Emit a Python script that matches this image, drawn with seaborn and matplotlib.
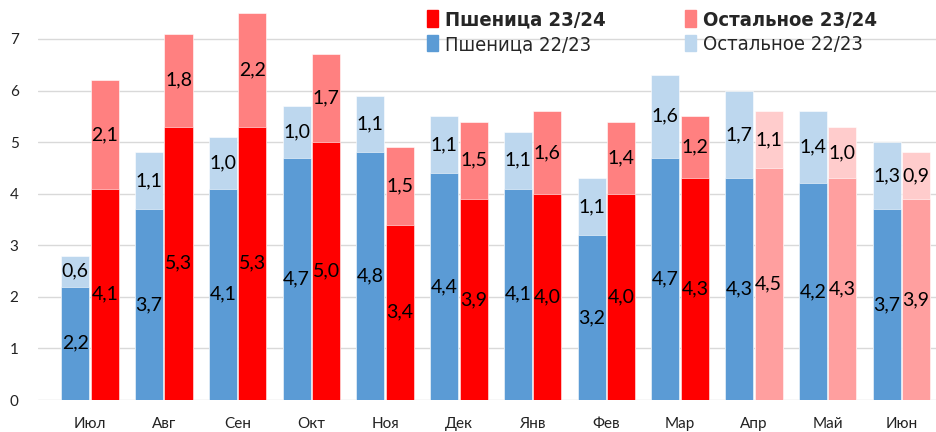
import matplotlib.pyplot as plt
import seaborn as sns
import pandas as pd
from matplotlib.patches import Patch
from matplotlib.font_manager import FontProperties


sns.set_theme(style="white")
plt.rcParams['font.family'] = ['Lato', 'DejaVu Sans']

months = ['Июл', 'Авг', 'Сен', 'Окт', 'Ноя', 'Дек', 'Янв', 'Фев', 'Мар', 'Апр', 'Май', 'Июн']
wheat_22 = [2.2, 3.7, 4.1, 4.7, 4.8, 4.4, 4.1, 3.2, 4.7, 4.3, 4.2, 3.7]
other_22 = [0.6, 1.1, 1.0, 1.0, 1.1, 1.1, 1.1, 1.1, 1.6, 1.7, 1.4, 1.3]
wheat_23 = [4.1, 5.3, 5.3, 5.0, 3.4, 3.9, 4.0, 4.0, 4.3, 4.5, 4.3, 3.9]
other_23 = [2.1, 1.8, 2.2, 1.7, 1.5, 1.5, 1.6, 1.4, 1.2, 1.1, 1.0, 0.9]
# last months of 23/24 are forecast -> paler colours
forecast = ['Апр', 'Май', 'Июн']

seasons = ['22/23', '23/24']

rows = []
for i, m in enumerate(months):
    rows.append({'month': m, 'season': '22/23', 'wheat': wheat_22[i], 'other': other_22[i]})
    rows.append({'month': m, 'season': '23/24', 'wheat': wheat_23[i], 'other': other_23[i]})
df = pd.DataFrame(rows)
df['total'] = df['wheat'] + df['other']

c_blue, c_lblue = '#5B9BD5', '#BDD7EE'
c_red, c_lred = '#FF0000', '#FF8080'
c_red_fc, c_lred_fc = '#FF9F9F', '#FFCCCC'

fig = plt.figure(figsize=(9.36, 4.32), dpi=100)
ax = fig.add_axes([0.0406, 0.074, 0.9594, 0.926])

# totals first (light part), then wheat on top of it
sns.barplot(data=df, x='month', y='total', hue='season', hue_order=seasons,
            order=months, palette=[c_lblue, c_lred], width=0.8, gap=0.05,
            legend=False, ax=ax, edgecolor='white', linewidth=0.4, saturation=1)
sns.barplot(data=df, x='month', y='wheat', hue='season', hue_order=seasons,
            order=months, palette=[c_blue, c_red], width=0.8, gap=0.05,
            legend=False, ax=ax, edgecolor='white', linewidth=0.4, saturation=1)

tot22, tot23, wh22, wh23 = ax.containers[:4]
for i, m in enumerate(months):
    if m in forecast:
        tot23[i].set_facecolor(c_lred_fc)
        wh23[i].set_facecolor(c_red_fc)

# value labels centred in each segment
for cont_w, wvals, ovals in [(wh22, wheat_22, other_22), (wh23, wheat_23, other_23)]:
    for bar, w, o in zip(cont_w, wvals, ovals):
        xc = bar.get_x() + bar.get_width() / 2
        ax.text(xc, w / 2, f'{w:.1f}'.replace('.', ','), ha='center', va='center',
                fontsize=14, color='black')
        ax.text(xc, w + o / 2, f'{o:.1f}'.replace('.', ','), ha='center', va='center',
                fontsize=14, color='black')

ax.set_ylim(0, 7.756)
ax.set_xlim(-0.705, 11.47)
ax.set_yticks(range(0, 8))
ax.yaxis.grid(True, color='#D9D9D9', linewidth=1)
ax.set_axisbelow(True)
for s in ax.spines.values():
    s.set_visible(False)
ax.tick_params(axis='y', length=0, pad=14, labelsize=11, labelcolor='#222222')
ax.tick_params(axis='x', length=0, pad=12, labelsize=11, labelcolor='#222222')
ax.set_xlabel('')
ax.set_ylabel('')

leg_font = FontProperties(family=['DejaVu Sans'], stretch='condensed', size=14.5)
handles = [Patch(color=c_red), Patch(color=c_blue), Patch(color=c_lred), Patch(color=c_lblue)]
labels = ['Пшеница 23/24', 'Пшеница 22/23', 'Остальное 23/24', 'Остальное 22/23']
leg = fig.legend(handles, labels, ncol=2, loc='upper left', bbox_to_anchor=(0.437, 1.018),
                 frameon=False, handlelength=0.55, handleheight=0.9, handletextpad=0.35,
                 columnspacing=3.9, labelspacing=0.25, prop=leg_font)
for t in leg.get_texts():
    if '23/24' in t.get_text():
        t.set_fontweight('bold')

fig.savefig('out.png', dpi=100)
